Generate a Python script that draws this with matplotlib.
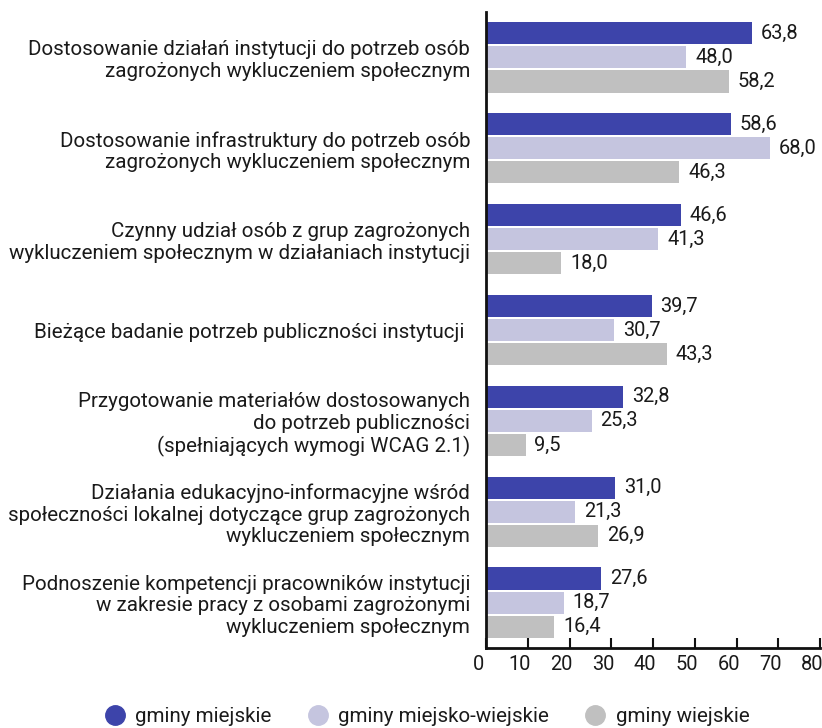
import matplotlib
matplotlib.use("Agg")
import matplotlib.pyplot as plt
import matplotlib.transforms as mtransforms
from matplotlib.lines import Line2D
import numpy as np

plt.rcParams['font.family'] = ['Roboto', 'DejaVu Sans']

categories = [
    "Dostosowanie działań instytucji do potrzeb osób\nzagrożonych wykluczeniem społecznym",
    "Dostosowanie infrastruktury do potrzeb osób\nzagrożonych wykluczeniem społecznym",
    "Czynny udział osób z grup zagrożonych\nwykluczeniem społecznym w działaniach instytucji",
    "Bieżące badanie potrzeb publiczności instytucji ",
    "Przygotowanie materiałów dostosowanych\ndo potrzeb publiczności\n(spełniających wymogi WCAG 2.1)",
    "Działania edukacyjno-informacyjne wśród\nspołeczności lokalnej dotyczące grup zagrożonych\nwykluczeniem społecznym",
    "Podnoszenie kompetencji pracowników instytucji\nw zakresie pracy z osobami zagrożonymi\nwykluczeniem społecznym",
]
series_names = ["gminy miejskie", "gminy miejsko-wiejskie", "gminy wiejskie"]
miejskie = [63.8, 58.6, 46.6, 39.7, 32.8, 31.0, 27.6]
miejsko_wiejskie = [48.0, 68.0, 41.3, 30.7, 25.3, 21.3, 18.7]
wiejskie = [58.2, 46.3, 18.0, 43.3, 9.5, 26.9, 16.4]
xticks = [0, 10, 20, 30, 40, 50, 60, 70, 80]

colors = ["#3d44aa", "#c5c5df", "#c0c0c0"]
FS = 14.8

W, H = 822, 728
fig = plt.figure(figsize=(W / 100, H / 100), dpi=100)
left, right, top, bottom = 486, 820, 12, 648
ax = fig.add_axes([left / W, 1 - bottom / H, (right - left) / W, (bottom - top) / H])

y = np.arange(len(categories))
pitch = 0.265
height = 0.243
for k, (vals, c) in enumerate(zip([miejskie, miejsko_wiejskie, wiejskie], colors)):
    pos = y + (k - 1) * pitch
    ax.barh(pos, vals, height=height, color=c, label=series_names[k])
    for p, v in zip(pos, vals):
        ax.text(v + 2.1, p, f"{v:.1f}".replace(".", ","), va="center", ha="left",
                fontsize=14.4, color="#1a1a1a")

ax.set_xlim(0, 80)
ax.set_ylim(6.5, -0.5)
ax.set_xticks(xticks)
ax.set_xticklabels([str(t) for t in xticks], fontsize=14.4, color="#1a1a1a")
ax.set_yticks(y)
ax.set_yticklabels(categories, fontsize=FS, color="#1a1a1a", linespacing=1.16)
ax.tick_params(axis="y", length=0, pad=11.5)
ax.tick_params(axis="x", direction="in", length=7, width=1.5, pad=5, color="#111111")
offset = mtransforms.ScaledTranslation(-8 / 100, 0, fig.dpi_scale_trans)
for lbl in ax.get_xticklabels():
    lbl.set_transform(lbl.get_transform() + offset)
for s in ["top", "right"]:
    ax.spines[s].set_visible(False)
for s in ["left", "bottom"]:
    ax.spines[s].set_linewidth(2)
    ax.spines[s].set_color("#111111")

handles = [Line2D([0], [0], marker="o", linestyle="", markersize=14,
                  markerfacecolor=c, markeredgecolor=c) for c in colors]
fig.legend(handles, series_names, loc="center", bbox_to_anchor=(427 / W, 1 - 717 / H),
           ncol=3, frameon=False, fontsize=FS, columnspacing=1.75, handletextpad=0.5,
           handlelength=1.0, labelcolor="#1a1a1a")

fig.savefig("out.png", dpi=100)
